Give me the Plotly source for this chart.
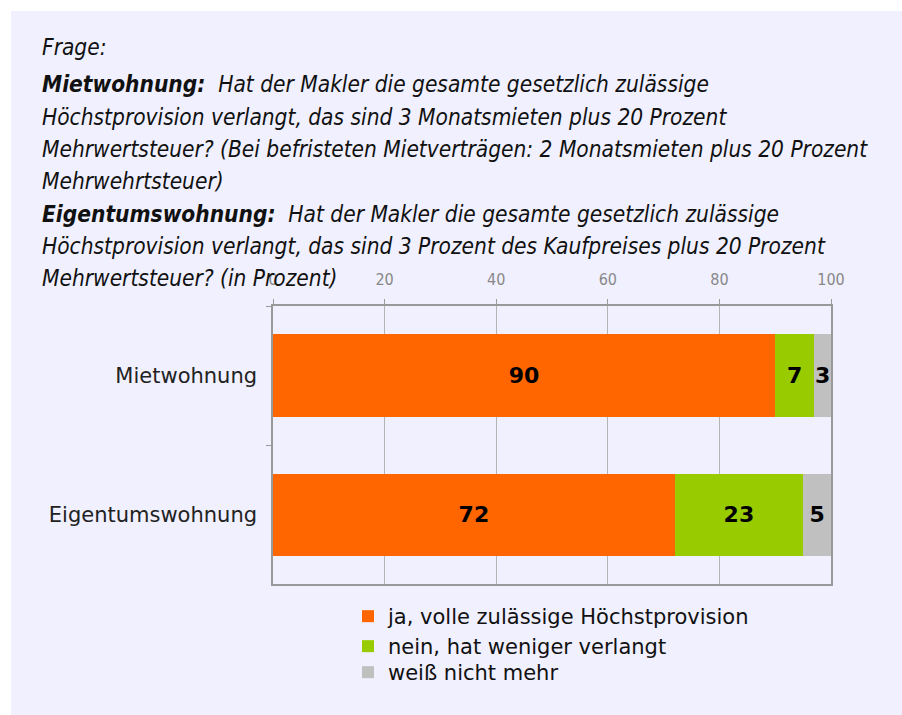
import plotly.graph_objects as go

categories = ["Mietwohnung", "Eigentumswohnung"]
series_names = ["ja, volle zulässige Höchstprovision", "nein, hat weniger verlangt", "weiß nicht mehr"]
ja_values = [90, 72]
nein_values = [7, 23]
weiss_values = [3, 5]
colors = ["#FF6600", "#99CC00", "#C0C0C0"]
x_ticks = [0, 20, 40, 60, 80, 100]

title_lines = [
    "<i>Frage:</i>",
    "<i><b>Mietwohnung:</b>  Hat der Makler die gesamte gesetzlich zulässige</i>",
    "<i>Höchstprovision verlangt, das sind 3 Monatsmieten plus 20 Prozent</i>",
    "<i>Mehrwertsteuer? (Bei befristeten Mietverträgen: 2 Monatsmieten plus 20 Prozent</i>",
    "<i>Mehrwehrtsteuer)</i>",
    "<i><b>Eigentumswohnung:</b>  Hat der Makler die gesamte gesetzlich zulässige</i>",
    "<i>Höchstprovision verlangt, das sind 3 Prozent des Kaufpreises plus 20 Prozent</i>",
    "<i>Mehrwertsteuer? (in Prozent)</i>",
]
title_line_px = [47, 84, 117, 149, 181, 214, 246, 278]
legend_top_px = [596, 626, 652]

W, H = 902, 715
L, R, T, B = 273, 831, 306, 584

def px2x(px):
    return (px - L) / (R - L)

def px2y(py):
    return (B - py) / (B - T)

legend_ids = ["legend", "legend2", "legend3"]

fig = go.Figure()
for name, vals, col, lg in zip(series_names, [ja_values, nein_values, weiss_values], colors, legend_ids):
    fig.add_trace(go.Bar(
        y=categories, x=vals, name=name, orientation="h",
        marker=dict(color=col, line=dict(width=0)),
        text=vals, texttemplate="<b>%{x}</b>", textposition="inside",
        insidetextanchor="middle", constraintext="none",
        textfont=dict(family="DejaVu Sans", size=22, color="#000000"),
        hoverinfo="skip", legend=lg,
    ))

fig.add_shape(type="rect", xref="paper", yref="paper",
              x0=px2x(11), x1=px2x(905), y0=px2y(720), y1=px2y(11),
              fillcolor="#F0F0FF", line=dict(width=0), layer="below")

for txt, py in zip(title_lines, title_line_px):
    fig.add_annotation(text=txt, xref="paper", yref="paper",
                       x=px2x(40), y=px2y(py), xanchor="left", yanchor="middle",
                       showarrow=False,
                       font=dict(family="DejaVu Sans Condensed", size=22.5, color="#111111"))

legend_common = dict(xanchor="left", yanchor="top", bgcolor="rgba(0,0,0,0)",
                     font=dict(family="DejaVu Sans", size=21, color="#111111"),
                     itemwidth=30)

fig.update_layout(
    width=W, height=H,
    margin=dict(l=L, r=W - R, t=T, b=H - B, pad=0),
    paper_bgcolor="white", plot_bgcolor="white",
    barmode="stack", bargap=0.41,
    showlegend=True,
    legend=dict(x=px2x(348), y=px2y(legend_top_px[0]), **legend_common),
    legend2=dict(x=px2x(348), y=px2y(legend_top_px[1]), **legend_common),
    legend3=dict(x=px2x(348), y=px2y(legend_top_px[2]), **legend_common),
    xaxis=dict(side="top", range=[0, 100], tickvals=x_ticks, ticks="outside",
               ticklen=5, tickcolor="#999999", showline=True, mirror=True,
               linecolor="#999999", linewidth=1.5, showgrid=True, gridcolor="#B4B4B4",
               zeroline=False, ticklabelstandoff=8,
               tickfont=dict(family="DejaVu Sans Condensed", size=16, color="#888888")),
    yaxis=dict(autorange="reversed", ticks="outside", tickson="boundaries", ticklen=5,
               tickcolor="#999999", showline=True, mirror=True, linecolor="#999999",
               linewidth=1.5, showgrid=False, ticklabelstandoff=10,
               tickfont=dict(family="DejaVu Sans", size=21, color="#222222")),
)

fig.write_html("out.html", config={"displayModeBar": False},
               post_script="document.body.style.margin='0';")
